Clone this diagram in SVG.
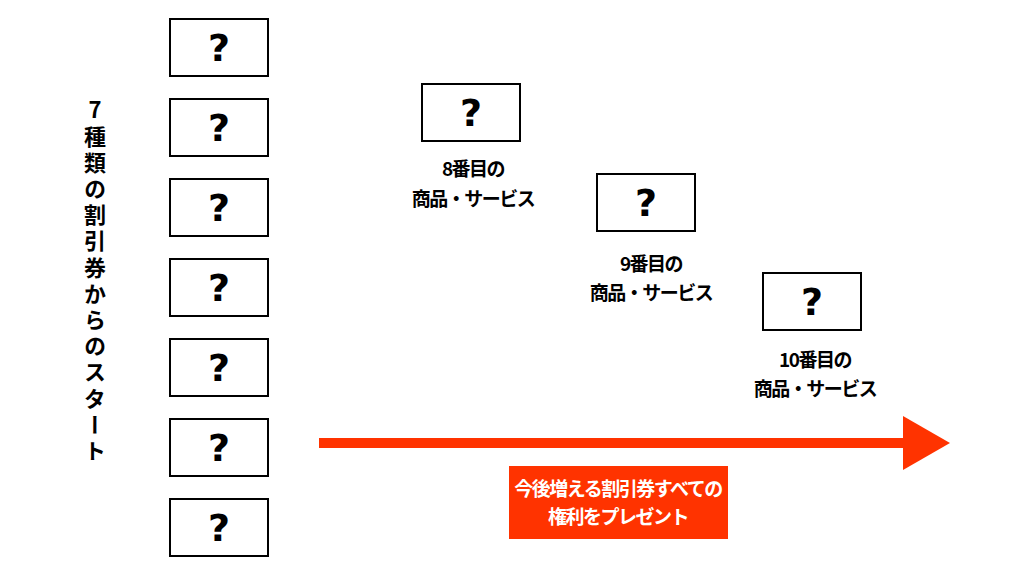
<svg xmlns="http://www.w3.org/2000/svg" width="1024" height="576" viewBox="0 0 1024 576">
<style>
.box{fill:#fff;stroke:#000;stroke-width:2}
.q{font-family:"DejaVu Sans",sans-serif;font-weight:bold;font-size:38px;text-anchor:middle}
.lbl{font-family:"Noto Sans CJK JP",sans-serif;font-weight:bold;font-size:19px;text-anchor:middle;letter-spacing:-1.5px}
.v{font-family:"Noto Sans CJK JP",sans-serif;font-weight:bold;font-size:22px;writing-mode:vertical-rl;text-orientation:upright;letter-spacing:4.2px}
.w{font-family:"Noto Sans CJK JP",sans-serif;font-weight:bold;font-size:19px;text-anchor:middle;fill:#fff;letter-spacing:-1.5px}
</style>
<rect width="1024" height="576" fill="#fff"/>
<g id="title">
<text class="v" x="95" y="99">7種類の割引券からのスタート</text>
</g>
<g id="n1"><rect class="box" x="170" y="19" width="98" height="57"/><text class="q" x="219" y="61">?</text></g>
<g id="n2"><rect class="box" x="170" y="99" width="98" height="57"/><text class="q" x="219" y="141">?</text></g>
<g id="n3"><rect class="box" x="170" y="179" width="98" height="57"/><text class="q" x="219" y="221">?</text></g>
<g id="n4"><rect class="box" x="170" y="259" width="98" height="57"/><text class="q" x="219" y="301">?</text></g>
<g id="n5"><rect class="box" x="170" y="339" width="98" height="57"/><text class="q" x="219" y="381">?</text></g>
<g id="n6"><rect class="box" x="170" y="419" width="98" height="57"/><text class="q" x="219" y="461">?</text></g>
<g id="n7"><rect class="box" x="170" y="499" width="98" height="57"/><text class="q" x="219" y="541">?</text></g>
<g id="n8"><rect class="box" x="422" y="84" width="98" height="57"/><text class="q" x="471" y="126">?</text>
<text class="lbl" x="473" y="176">8番目の</text><text class="lbl" x="473" y="206">商品・サービス</text></g>
<g id="n9"><rect class="box" x="597" y="174" width="98" height="57"/><text class="q" x="646" y="216">?</text>
<text class="lbl" x="651" y="271">9番目の</text><text class="lbl" x="651" y="300">商品・サービス</text></g>
<g id="n10"><rect class="box" x="763" y="273" width="98" height="57"/><text class="q" x="812" y="315">?</text>
<text class="lbl" x="815" y="367">10番目の</text><text class="lbl" x="815" y="396">商品・サービス</text></g>
<g id="connectors">
<rect x="319" y="438" width="586" height="10" fill="#ff3300"/>
<polygon points="903,416 950,443 903,470" fill="#ff3300"/>
</g>
<g id="label">
<rect x="509" y="466" width="219" height="73" fill="#ff3300"/>
<text class="w" x="618" y="496">今後増える割引券すべての</text>
<text class="w" x="618" y="524">権利をプレゼント</text>
</g>
</svg>
